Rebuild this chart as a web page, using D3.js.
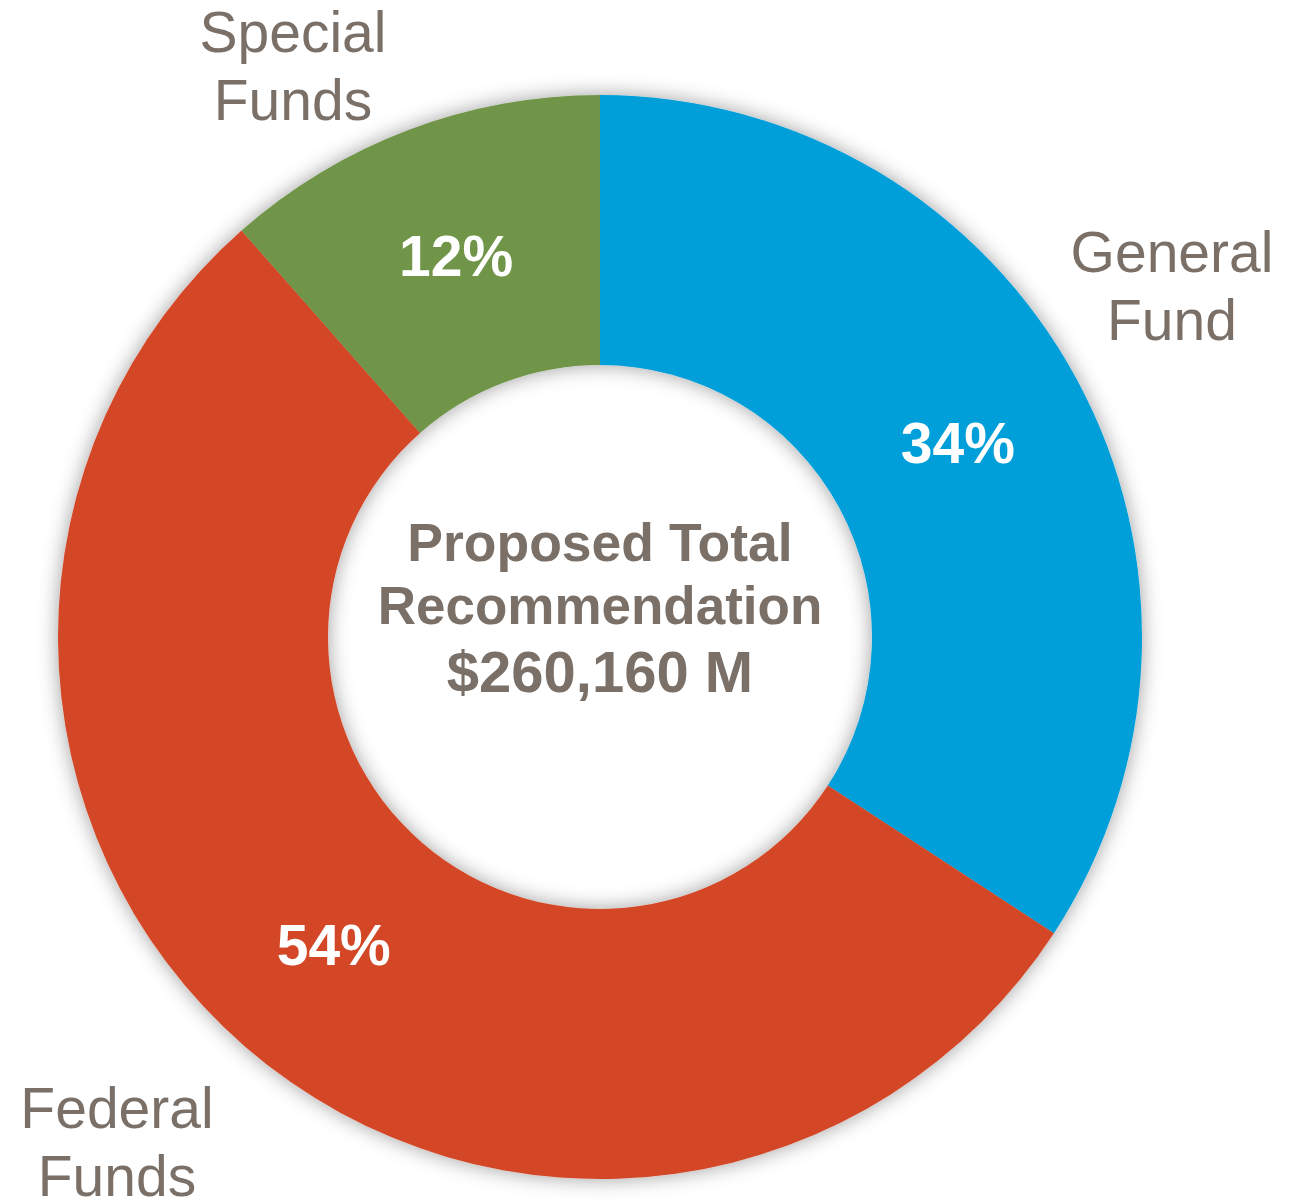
<!DOCTYPE html>
<html>
<head>
<meta charset="utf-8">
<script src="https://cdn.jsdelivr.net/npm/d3@7"></script>
<style>
  html, body { margin: 0; padding: 0; background: #fff; }
  svg { display: block; font-family: "Liberation Sans", Arial, sans-serif; }
</style>
</head>
<body>
<svg id="svg" width="1306" height="1203"></svg>
<script>
const categories = ["General Fund", "Federal Funds", "Special Funds"]
const shares = [34.2, 54.3, 11.5]
const colors = ["#069fd9", "#d44727", "#70954a"]
const labelLines = [["General", "Fund"], ["Federal", "Funds"], ["Special", "Funds"]]
const centerLines = ["Proposed Total", "Recommendation", "$260,160 M"]

const svg = d3.select("#svg")
const cx = 600, cy = 637
const outerR = 542, innerR = 272
const textColor = "#7a7068"

// soft shadow round the ring
const defs = svg.append("defs")
const f = defs.append("filter").attr("id", "shadow")
  .attr("x", "-10%").attr("y", "-10%").attr("width", "120%").attr("height", "120%")
f.append("feDropShadow")
  .attr("dx", 0).attr("dy", 0)
  .attr("stdDeviation", 10)
  .attr("flood-color", "#000").attr("flood-opacity", 0.38)

const pie = d3.pie().sort(null).value(d => d)
const arc = d3.arc().innerRadius(innerR).outerRadius(outerR)
const arcs = pie(shares)

const g = svg.append("g").attr("transform", `translate(${cx},${cy})`)

g.append("g")
  .attr("filter", "url(#shadow)")
  .selectAll("path")
  .data(arcs)
  .join("path")
    .attr("d", arc)
    .attr("fill", (d, i) => colors[i])

g.selectAll("text.pct")
  .data(arcs)
  .join("text")
    .attr("class", "pct")
    .attr("transform", d => `translate(${arc.centroid(d)})`)
    .attr("text-anchor", "middle")
    .attr("dy", "0.35em")
    .attr("fill", "#fff")
    .attr("font-weight", "bold")
    .attr("font-size", 57)
    .text(d => Math.round(d.data) + "%")

// category labels outside the ring
const labelPos = [[1172, 272], [117, 1128], [293, 52]]
labelLines.forEach((lines, i) => {
  const t = svg.append("text")
    .attr("x", labelPos[i][0]).attr("y", labelPos[i][1])
    .attr("text-anchor", "middle")
    .attr("fill", textColor)
    .attr("font-size", 57)
  lines.forEach((s, j) => {
    t.append("tspan").attr("x", labelPos[i][0]).attr("dy", j ? 68 : 0).text(s)
  })
})

// center text
const centerY = [561, 624, 692]
const centerSize = [53.5, 53, 58]
centerLines.forEach((s, i) => {
  svg.append("text")
    .attr("x", cx).attr("y", centerY[i])
    .attr("text-anchor", "middle")
    .attr("fill", textColor)
    .attr("font-weight", "bold")
    .attr("font-size", centerSize[i])
    .text(s)
})
</script>
</body>
</html>
